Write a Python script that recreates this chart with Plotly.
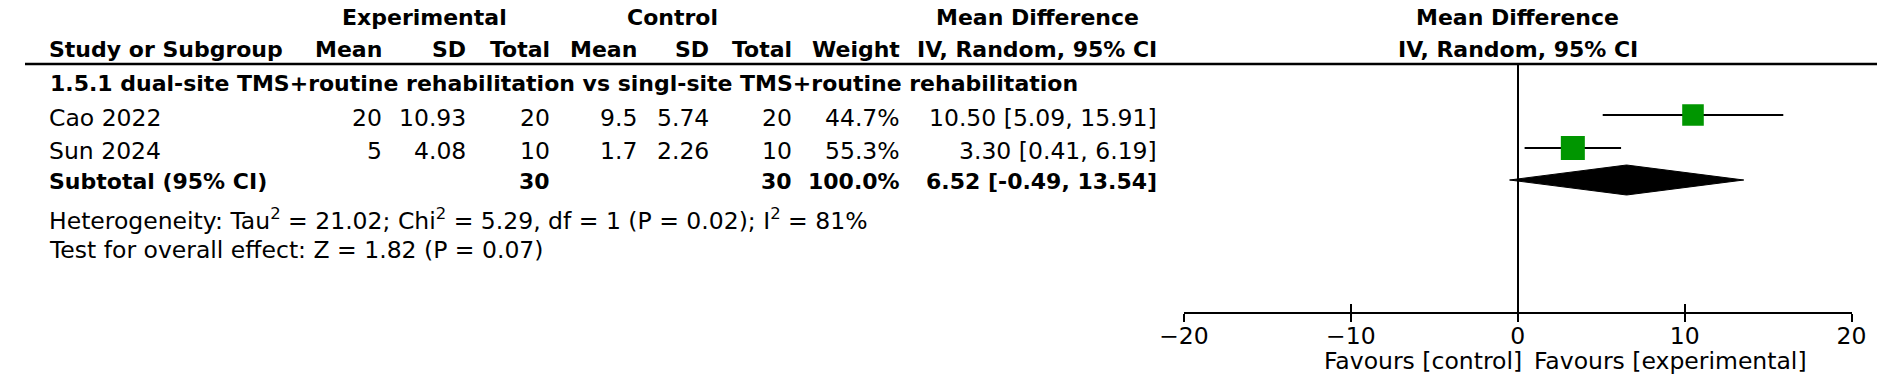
import plotly.graph_objects as go

# ---------------- data ----------------
studies = ["Cao 2022", "Sun 2024"]
exp_mean = [20, 5]
exp_sd = [10.93, 4.08]
exp_n = [20, 10]
ctl_mean = [9.5, 1.7]
ctl_sd = [5.74, 2.26]
ctl_n = [20, 10]
weights = [44.7, 55.3]
md = [10.50, 3.30]
ci_lo = [5.09, 0.41]
ci_hi = [15.91, 6.19]

subgroup_title = "1.5.1 dual-site TMS+routine rehabilitation vs singl-site TMS+routine rehabilitation"
sub_exp_n = 30
sub_ctl_n = 30
sub_weight = 100.0
sub_md = 6.52
sub_lo = -0.49
sub_hi = 13.54

tau2 = 21.02
chi2 = 5.29
df_ = 1
p_het = 0.02
i2 = 81
z_val = 1.82
p_z = 0.07

tick_vals = [-20, -10, 0, 10, 20]
x_range = [-20, 20]
null_value = 0

# ---------------- layout constants (pixels) ----------------
W, H = 1892, 375
FONT = "DejaVu Sans"
FS = 23.5      # regular text
FSB = 22       # bold text
AX_LEFT, AX_RIGHT = 1184, 1866
Y_AXIS = 312
Y_HLINE = 64
Y_HDR1, Y_HDR2 = 17, 49
Y_SUBGROUP = 84
Y_ROWS_TXT = [118, 151]
Y_ROWS_MK = [115, 148]
Y_SUB_TXT = 181
Y_SUB_MK = 180
Y_HET, Y_TEST = 219, 250
Y_FAV = 361
DIAMOND_HALF = 15
SQUARE_MAX = 24
GREEN = "rgb(0,150,0)"

COL = {"name": 22, "em": 367, "esd": 453, "en": 538, "cm": 627, "csd": 701,
       "cn": 786, "w": 896, "ci": 1159}

fig = go.Figure()


def fmt(v):
    return f"{v:g}"


def txt(x, y, s, anchor="right", bold=False):
    if bold:
        s = f"<b>{s}</b>"
    fig.add_annotation(x=x / W, y=(H - y) / H, xref="paper", yref="paper",
                       text=s, showarrow=False, xanchor=anchor, yanchor="middle",
                       font=dict(family=FONT, size=FSB if bold else FS, color="black"))


# header
txt(408, Y_HDR1, "Experimental", "center", True)
txt(661, Y_HDR1, "Control", "center", True)
txt(1034, Y_HDR1, "Mean Difference", "center", True)
mid_forest = (AX_LEFT + AX_RIGHT) / 2
txt(mid_forest, Y_HDR1, "Mean Difference", "center", True)
txt(mid_forest, Y_HDR2, "IV, Random, 95% CI", "center", True)

txt(COL["name"], Y_HDR2, "Study or Subgroup", "left", True)
for key, lab in [("em", "Mean"), ("esd", "SD"), ("en", "Total"), ("cm", "Mean"),
                 ("csd", "SD"), ("cn", "Total"), ("w", "Weight"),
                 ("ci", "IV, Random, 95% CI")]:
    txt(COL[key], Y_HDR2, lab, "right", True)

fig.add_shape(type="line", xref="paper", yref="paper", x0=0, x1=1,
              y0=(H - Y_HLINE) / H, y1=(H - Y_HLINE) / H,
              line=dict(color="black", width=2.5))

txt(COL["name"] + 2, Y_SUBGROUP, subgroup_title, "left", True)

for i, s in enumerate(studies):
    y = Y_ROWS_TXT[i]
    txt(COL["name"], y, s, "left")
    txt(COL["em"], y, fmt(exp_mean[i]))
    txt(COL["esd"], y, fmt(exp_sd[i]))
    txt(COL["en"], y, fmt(exp_n[i]))
    txt(COL["cm"], y, fmt(ctl_mean[i]))
    txt(COL["csd"], y, fmt(ctl_sd[i]))
    txt(COL["cn"], y, fmt(ctl_n[i]))
    txt(COL["w"], y, f"{weights[i]:.1f}%")
    txt(COL["ci"], y, f"{md[i]:.2f} [{ci_lo[i]:.2f}, {ci_hi[i]:.2f}]")

txt(COL["name"], Y_SUB_TXT, "Subtotal (95% CI)", "left", True)
txt(COL["en"], Y_SUB_TXT, fmt(sub_exp_n), "right", True)
txt(COL["cn"], Y_SUB_TXT, fmt(sub_ctl_n), "right", True)
txt(COL["w"], Y_SUB_TXT, f"{sub_weight:.1f}%", "right", True)
txt(COL["ci"], Y_SUB_TXT, f"{sub_md:.2f} [{sub_lo:.2f}, {sub_hi:.2f}]", "right", True)

txt(COL["name"], Y_HET,
    f"Heterogeneity: Tau<sup>2</sup> = {tau2:.2f}; Chi<sup>2</sup> = {chi2:.2f}, "
    f"df = {df_} (P = {p_het:.2f}); I<sup>2</sup> = {i2}%", "left")
txt(COL["name"], Y_TEST, f"Test for overall effect: Z = {z_val:.2f} (P = {p_z:.2f})", "left")

# ---------------- forest marks ----------------
for i in range(len(studies)):
    fig.add_trace(go.Scatter(x=[ci_lo[i], ci_hi[i]], y=[Y_ROWS_MK[i]] * 2, mode="lines",
                             line=dict(color="black", width=2), showlegend=False,
                             hoverinfo="skip"))
max_w = max(weights)
fig.add_trace(go.Scatter(
    x=md, y=Y_ROWS_MK, mode="markers",
    marker=dict(symbol="square", color=GREEN, opacity=1,
                size=[SQUARE_MAX * (w / max_w) ** 0.5 for w in weights],
                line=dict(width=0)),
    showlegend=False, hoverinfo="skip"))

fig.add_trace(go.Scatter(
    x=[sub_lo, sub_md, sub_hi, sub_md, sub_lo],
    y=[Y_SUB_MK, Y_SUB_MK - DIAMOND_HALF, Y_SUB_MK, Y_SUB_MK + DIAMOND_HALF, Y_SUB_MK],
    mode="lines", fill="toself", fillcolor="black", line=dict(color="black", width=1),
    showlegend=False, hoverinfo="skip", xaxis="x2"))

for label, anchor, shift in [("Favours [control]", "right", 6),
                             ("Favours [experimental]", "left", 14)]:
    fig.add_annotation(x=null_value, y=(H - Y_FAV) / H, xref="x", yref="paper",
                       text=label, showarrow=False, xanchor=anchor, yanchor="middle",
                       xshift=shift, font=dict(family=FONT, size=FS, color="black"))

dom_x = [AX_LEFT / W, AX_RIGHT / W]
dom_y = [(H - Y_AXIS) / H, (H - Y_HLINE) / H]
fig.update_layout(
    width=W, height=H, margin=dict(l=0, r=0, t=0, b=0),
    paper_bgcolor="white", plot_bgcolor="white",
    font=dict(family=FONT, size=FS, color="black"),
    xaxis=dict(domain=dom_x, range=x_range, anchor="y", showline=True, linecolor="black",
               linewidth=2, ticks="outside", ticklen=8, tickwidth=2, tickcolor="black",
               tickvals=tick_vals, showgrid=False, zeroline=True, zerolinecolor="black",
               zerolinewidth=2, ticklabelstandoff=-6,
               tickfont=dict(family=FONT, size=FS, color="black")),
    xaxis2=dict(domain=dom_x, range=x_range, anchor="y", overlaying="x", side="bottom",
                showline=False, ticks="inside", ticklen=8, tickwidth=2, tickcolor="black",
                tickvals=tick_vals, showticklabels=False, showgrid=False, zeroline=False),
    yaxis=dict(domain=dom_y, range=[Y_AXIS, Y_HLINE], visible=False, showgrid=False,
               zeroline=False),
)

fig.write_html(
    "out.html",
    config={"displayModeBar": False},
    post_script="document.body.style.margin='0px';document.body.style.overflow='hidden';",
)
